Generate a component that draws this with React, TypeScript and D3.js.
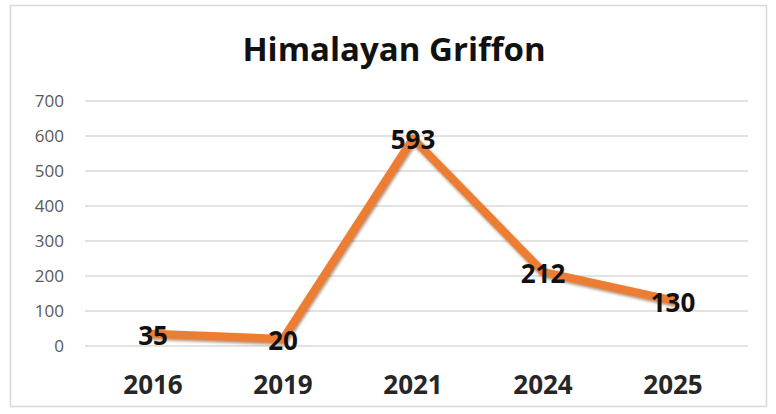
import React from "react";
import * as d3 from "d3";

const categories = ["2016", "2019", "2021", "2024", "2025"];
const values = [35, 20, 593, 212, 130];
const yTicks = [0, 100, 200, 300, 400, 500, 600, 700];
const title = "Himalayan Griffon";

export default function App() {
  const W = 776, H = 414;
  const x = d3.scalePoint<string>().domain(categories).range([153, 673]);
  const y = d3.scaleLinear().domain([0, 700]).range([346, 101]);
  const line = d3.line<number>().x((_, i) => x(categories[i]) as number).y((d) => y(d));
  const font = "'Open Sans', sans-serif";
  return (
    <svg width={W} height={H} style={{ position: "absolute", left: 0, top: 0 }}>
      <defs>
        <filter id="sh" x="-10%" y="-10%" width="120%" height="130%">
          <feDropShadow dx="1" dy="2" stdDeviation="1.5" floodColor="#7a3a10" floodOpacity="0.6" />
        </filter>
      </defs>
      <rect x={0} y={0} width={W} height={H} fill="#fff" />
      <rect x={10.5} y={5.5} width={756} height={401} fill="#fff" stroke="#d9d9d9" strokeWidth={1.5} />
      <text x={394} y={61} textAnchor="middle" fontFamily={font} fontWeight={700} fontSize={33} fill="#111">
        {title}
      </text>
      {yTicks.map((t) => (
        <g key={t}>
          <line x1={85} x2={748} y1={y(t)} y2={y(t)} stroke="#d9d9d9" strokeWidth={1.5} />
          <text x={64} y={y(t) + 6} textAnchor="end" fontFamily={font} fontSize={17} fill="#595959">
            {t}
          </text>
        </g>
      ))}
      {categories.map((c) => (
        <text key={c} x={x(c)} y={394} textAnchor="middle" fontFamily={font} fontWeight={700} fontSize={26} fill="#262626">
          {c}
        </text>
      ))}
      <path d={line(values) || ""} fill="none" stroke="#ED7D31" strokeWidth={8} strokeLinejoin="round" strokeLinecap="round" filter="url(#sh)" />
      {values.map((v, i) => (
        <text key={i} x={x(categories[i])} y={y(v) + 11} textAnchor="middle" fontFamily={font} fontWeight={700} fontSize={26} fill="#111">
          {v}
        </text>
      ))}
    </svg>
  );
}
